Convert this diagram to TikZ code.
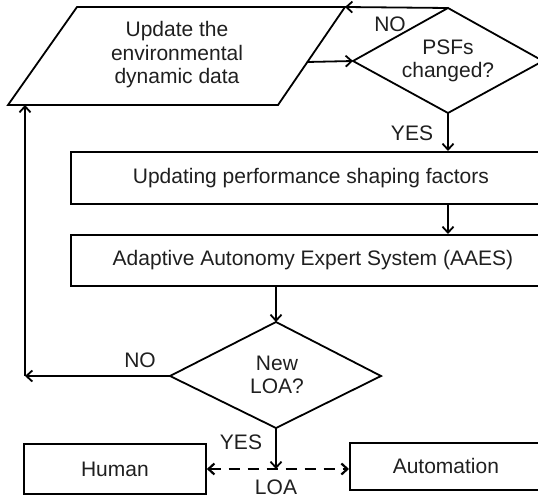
\documentclass[tikz,border=0pt]{standalone}
\usepackage{fontspec}
\setmainfont{Liberation Sans}
\usetikzlibrary{arrows.meta}
\begin{document}
\begin{tikzpicture}[x=1pt,y=-1pt,
  line width=1.8pt,
  every node/.style={font=\fontsize{21}{23.5}\selectfont, text=black!88},
  flow/.style={-{Straight Barb[length=6pt,width=11pt,line width=1.8pt]}},
  dflow/.style={{Straight Barb[length=6pt,width=11pt,line width=2.2pt]}-{Straight Barb[length=6pt,width=11pt,line width=2.2pt]},
    line width=2.8pt, dash pattern=on 11pt off 8pt},
  stepbox/.style={draw, inner sep=0pt, anchor=north west},
  lbl/.style={inner sep=0pt}
]
\useasboundingbox (0,0) rectangle (538,500);
\clip (0,0) rectangle (538,500);

% input parallelogram
\coordinate (inTL) at (77,7);
\coordinate (inTR) at (345,7);
\coordinate (inBR) at (278,105);
\coordinate (inBL) at (8,105);
\draw (inTL) -- (inTR) -- (inBR) -- (inBL) -- cycle;
\node[align=center, lbl] (input) at (177,55) {Update the\\environmental\\dynamic data};
\coordinate (inR) at (307,62);

% decision: PSFs changed?
\coordinate (psfT) at (448,8);
\coordinate (psfL) at (353,61);
\coordinate (psfR) at (543,61);
\coordinate (psfB) at (448,113);
\draw (psfT) -- (psfR) -- (psfB) -- (psfL) -- cycle;
\node[align=center, lbl] (psf) at (448,61) {PSFs\\changed?};

% process boxes
\node[stepbox, minimum width=480pt, minimum height=52pt] (upd) at (70,151) {Updating performance shaping factors};
\node[stepbox, minimum width=484pt, minimum height=51pt] (aaes) at (70,234) {Adaptive Autonomy Expert System (AAES)};

% decision: New LOA?
\coordinate (loaT) at (276,322);
\coordinate (loaL) at (170,376);
\coordinate (loaR) at (381,376);
\coordinate (loaB) at (276,428);
\draw (loaT) -- (loaR) -- (loaB) -- (loaL) -- cycle;
\node[align=center, lbl] (loa) at (277,375) {New\\LOA?};

% outcome boxes
\node[stepbox, minimum width=182pt, minimum height=50pt] (human) at (23,443) {Human};
\node[stepbox, minimum width=192pt, minimum height=47pt] (auto) at (349,442) {Automation};

% connectors
\draw[flow] (inR) -- (psfL);
\draw[flow] (psfT) -- (inTR);
\draw[flow] (psfB) -- (upd.north -| psfB);
\draw[flow] (upd.south -| psfB) -- (aaes.north -| psfB);
\draw[flow] (aaes.south -| loaT) -- (loaT);
\coordinate (back) at (25,376);
\draw[flow] (loaL) -- (back);
\draw[flow] (back) -- (back |- inBL);
\coordinate (mid) at (276,469);
\draw[flow] (loaB) -- (mid);
\draw[dflow] (human.east |- mid) -- (auto.west |- mid);

% labels
\node[lbl] at (390,24) {NO};
\node[lbl] at (412,133) {YES};
\node[lbl] at (140,360) {NO};
\node[lbl] at (241,442) {YES};
\node[lbl] at (276,487) {LOA};
\end{tikzpicture}
\end{document}
